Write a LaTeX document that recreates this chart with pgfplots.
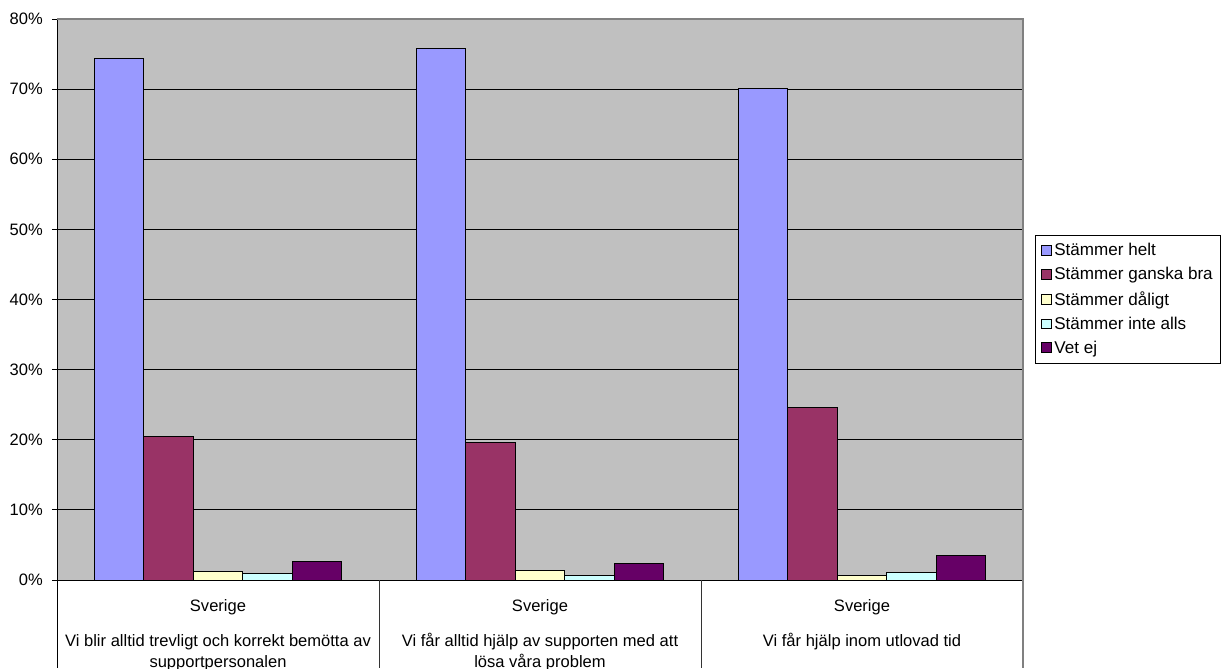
\documentclass[border=0pt]{standalone}
\usepackage{pgfplots}
\pgfplotsset{compat=1.18}
\usepackage{fontspec}
\setmainfont{Liberation Sans}
\definecolor{bggray}{HTML}{C0C0C0}
\definecolor{c1}{HTML}{9999FF}
\definecolor{c2}{HTML}{993366}
\definecolor{c3}{HTML}{FFFFCC}
\definecolor{c4}{HTML}{CCFFFF}
\definecolor{c5}{HTML}{660066}
\definecolor{bord}{HTML}{808080}
\pgfplotsset{
  mybar/.style={draw=black, line width=0.75pt, fill=#1,
    legend image code/.code={\draw[fill=#1,draw=black,line width=0.75pt] (0pt,-3.7pt) rectangle (7.4pt,3.7pt);}},
}
\begin{document}
\begin{tikzpicture}
\useasboundingbox (0,0) rectangle (915.75pt,501pt);
\begin{axis}[
  at={(42.75pt,66pt)}, anchor=south west,
  scale only axis, width=724.5pt, height=420.75pt,
  xmin=-0.5, xmax=2.5, ymin=0, ymax=80,
  ybar=0pt, bar width=37.05pt,
  clip=false,
  axis x line*=bottom, axis y line*=left,
  axis line style={black, line width=0.75pt, -},
  axis background/.style={fill=bggray},
  ymajorgrids, grid style={black, line width=0.75pt},
  ytick={0,10,...,80},
  yticklabel={\pgfmathprintnumber{\tick}\%},
  tick align=outside, major tick length=3.75pt,
  y tick style={black, line width=0.75pt},
  xtick={0,1,2},
  x tick style={draw=none},
  xticklabels={
    {Sverige\\[10.75pt]Vi blir alltid trevligt och korrekt bemötta av\\supportpersonalen},
    {Sverige\\[10.75pt]Vi får alltid hjälp av supporten med att\\lösa våra problem},
    {Sverige\\[10.75pt]Vi får hjälp inom utlovad tid}},
  xticklabel style={align=center, anchor=north, inner sep=0pt, yshift=-11pt,
    font=\fontsize{12.4}{15.5}\selectfont},
  yticklabel style={inner sep=0pt, xshift=-6.75pt, font=\fontsize{12.4}{15}\selectfont},
  /pgf/number format/assume math mode=true,
  legend style={at={(1.0124,0.615)}, anchor=north west, draw=black, fill=white,
    line width=0.75pt, font=\fontsize{12.8}{15}\selectfont, row sep=3.2pt,
    inner xsep=4pt, inner ysep=4pt},
  legend cell align=left,
]
\addplot[mybar=c1] coordinates {(0,74.4) (1,75.8) (2,70.1)};
\addplot[mybar=c2] coordinates {(0,20.5) (1,19.6) (2,24.6)};
\addplot[mybar=c3] coordinates {(0,1.2) (1,1.3) (2,0.65)};
\addplot[mybar=c4] coordinates {(0,0.9) (1,0.65) (2,1.0)};
\addplot[mybar=c5] coordinates {(0,2.6) (1,2.4) (2,3.45)};
\legend{Stämmer helt, Stämmer ganska bra, Stämmer dåligt, Stämmer inte alls, Vet ej}
\draw[black, line width=0.75pt] (axis cs:-0.5,0) -- ++(0pt,-66pt);
\draw[black!80, line width=0.75pt] (axis cs:0.5,0) -- ++(0pt,-66pt);
\draw[black!80, line width=0.75pt] (axis cs:1.5,0) -- ++(0pt,-66pt);
\draw[bord, line width=0.9pt] (rel axis cs:0,1) -- (rel axis cs:1,1) -- (rel axis cs:1,0) -- ++(0pt,-66pt);
\end{axis}
\end{tikzpicture}
\end{document}
